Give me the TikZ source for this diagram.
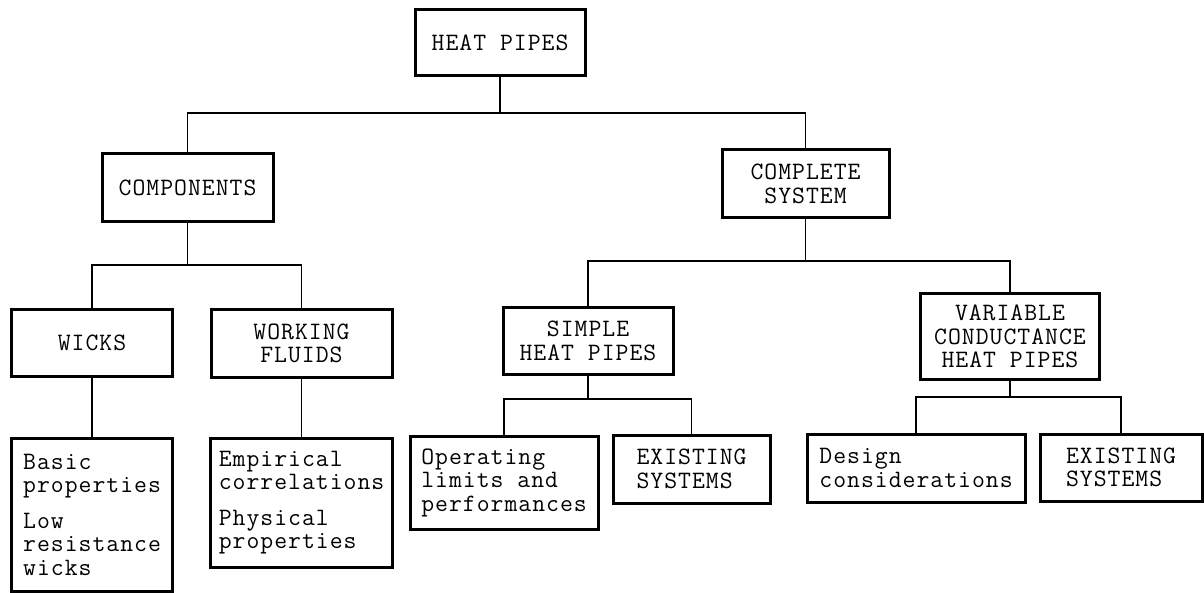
\documentclass[tikz,border=0pt]{standalone}
\usepackage{fontspec}
\setmonofont{Latin Modern Mono}[LetterSpace=4]
\begin{document}
\begin{tikzpicture}[x=1pt, y=-1pt,
    every node/.style={font=\fontsize{25}{23.5}\selectfont\ttfamily},
    head/.style={draw, line width=3pt, align=center, inner sep=0pt},
    leaf/.style={draw, line width=3pt, align=left, inner sep=0pt},
    link/.style={line width=1.5pt}]
    \useasboundingbox (0,0) rectangle (1204,593);
    % Top level
    \node[head, minimum width=170pt, minimum height=66pt] (heat) at (500,43) {HEAT PIPES};
    % Second level
    \node[head, minimum width=171pt, minimum height=68pt] (comp) at (187.5,188) {COMPONENTS};
    \node[head, minimum width=167pt, minimum height=68pt] (sys) at (805.5,184) {COMPLETE\\SYSTEM};
    % Third level
    \node[head, minimum width=161pt, minimum height=66pt] (wicks) at (92,343) {WICKS};
    \node[head, minimum width=181pt, minimum height=67pt] (fluids) at (301.5,343.5) {WORKING\\FLUIDS};
    \node[head, minimum width=170pt, minimum height=66pt] (simple) at (588,341) {SIMPLE\\HEAT PIPES};
    \node[head, minimum width=179pt, minimum height=85pt] (vch) at (1010,336.5) {VARIABLE\\CONDUCTANCE\\HEAT PIPES};
    % Bottom level
    \node[leaf, minimum width=161pt, minimum height=153pt] (basic) at (92,514.5)
        {Basic\\properties\\[12pt]Low\\resistance\\wicks};
    \node[leaf, minimum width=182pt, minimum height=129pt] (emp) at (301.5,502.5)
        {Empirical\\correlations\\[12pt]Physical\\properties};
    \node[leaf, minimum width=188pt, minimum height=93pt] (oper) at (504,482.5)
        {Operating\\limits and\\performances};
    \node[leaf, minimum width=157pt, minimum height=68pt] (exsimple) at (691.5,469) {EXISTING\\SYSTEMS};
    \node[leaf, minimum width=218pt, minimum height=68pt] (design) at (916,468) {Design\\considerations};
    \node[leaf, minimum width=162pt, minimum height=67pt] (exvch) at (1121,467.5) {EXISTING\\SYSTEMS};
    % Junctions
    \coordinate (j0) at (500,113);
    \coordinate (j1) at (187.5,265);
    \coordinate (j2) at (805.5,261);
    \coordinate (j3) at (588,399);
    \coordinate (j4) at (1010,397);
    % Connectors
    \draw[link] (heat.south) -- (j0);
    \draw[link] (comp.north) |- (j0) -| (sys.north);
    \draw[link] (comp.south) -- (j1);
    \draw[link] (wicks.north) |- (j1) -| (fluids.north);
    \draw[link] (sys.south) -- (j2);
    \draw[link] (simple.north) |- (j2) -| (vch.north);
    \draw[link] (simple.south) -- (j3);
    \draw[link] (oper.north) |- (j3) -| (exsimple.north);
    \draw[link] (vch.south) -- (j4);
    \draw[link] (design.north) |- (j4) -| (exvch.north);
    \draw[link] (wicks.south) -- (basic.north);
    \draw[link] (fluids.south) -- (emp.north);
\end{tikzpicture}
\end{document}
